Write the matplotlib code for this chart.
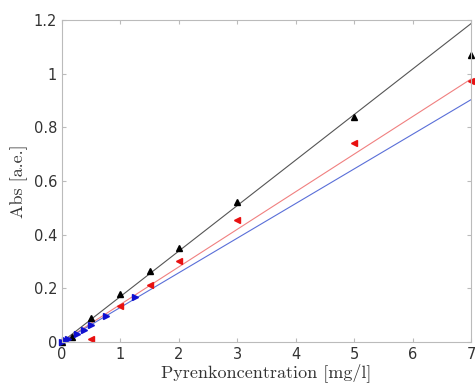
import numpy as np
import matplotlib
matplotlib.use("Agg")
import matplotlib.pyplot as plt

# Messwerte
x_schwarz = [0, 0.17, 0.5, 1, 1.5, 2, 3, 5, 7]
y_schwarz = [0.0, 0.02, 0.09, 0.178, 0.265, 0.352, 0.52, 0.838, 1.07]

x_rot = [0.5, 1, 1.5, 2, 3, 5, 7]
y_rot = [0.013, 0.134, 0.213, 0.302, 0.455, 0.74, 0.974]

x_blau = [0, 0.05, 0.1, 0.25, 0.375, 0.5, 0.75, 1.25]
y_blau = [0.0, 0.006, 0.012, 0.03, 0.045, 0.062, 0.097, 0.166]

# Steigungen der Ausgleichsgeraden
m_schwarz = 0.1695
m_rot = 0.140
m_blau = 0.129

fig = plt.figure(figsize=(4.75, 3.85), dpi=100)
ax = fig.add_axes([0.1305, 0.1117, 0.861, 0.8363])

xx = np.array([0, 7])
ax.plot(xx, m_schwarz * xx, color='#555555', lw=0.8)
ax.plot(xx, m_rot * xx, color='#f08080', lw=0.8)
ax.plot(xx, m_blau * xx, color='#5a6fd8', lw=0.8)

ax.plot(x_schwarz, y_schwarz, '^', color='black', ms=5, clip_on=False)
ax.plot(x_rot, y_rot, '<', color='#e81010', ms=5, clip_on=False)
ax.plot(x_blau, y_blau, '>', color='#1010d0', ms=5, clip_on=False)

ax.set_xlim(0, 7)
ax.set_ylim(0, 1.2)
ax.set_xticks(range(0, 8))
ax.set_yticks([0, 0.2, 0.4, 0.6, 0.8, 1, 1.2])
ax.set_yticklabels(['0', '0.2', '0.4', '0.6', '0.8', '1', '1.2'])

for s in ax.spines.values():
    s.set_color('#bbbbbb')
ax.tick_params(direction='in', top=True, right=True, color='#bbbbbb',
               labelcolor='#333333', labelsize=10.5, length=3)

ax.set_xlabel('Pyrenkoncentration [mg/l]', fontname='cmr10', fontsize=13, color='#333333', labelpad=1)
ax.set_ylabel('Abs [a.e.]', fontname='cmr10', fontsize=13, color='#333333', labelpad=4)

fig.savefig('out.png', dpi=100)
